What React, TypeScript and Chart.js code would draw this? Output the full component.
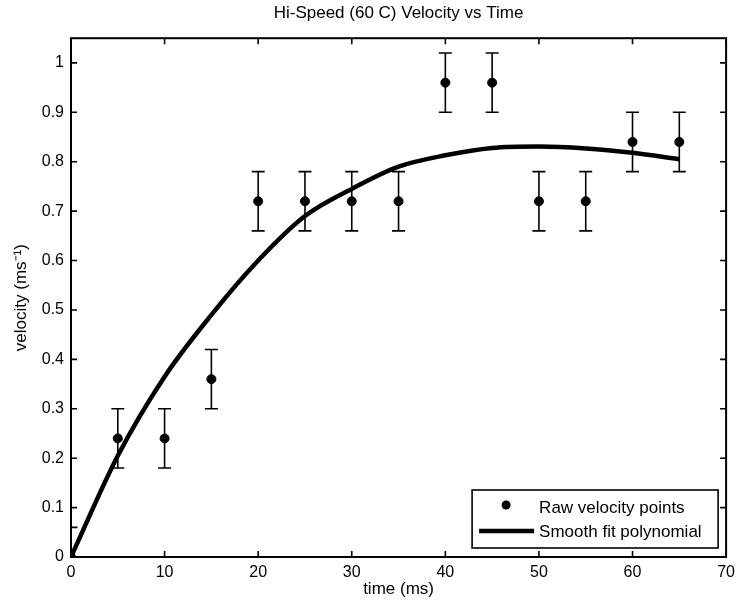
import React, { useEffect, useRef } from "react";
import { Chart, registerables } from "chart.js";

Chart.register(...registerables);

const times = [0, 5, 10, 15, 20, 25, 30, 35, 40, 45, 50, 55, 60, 65];
const velocities = [0, 0.24, 0.24, 0.36, 0.72, 0.72, 0.72, 0.72, 0.96, 0.96, 0.72, 0.72, 0.84, 0.84];
const errors = [0.06, 0.06, 0.06, 0.06, 0.06, 0.06, 0.06, 0.06, 0.06, 0.06, 0.06, 0.06, 0.06, 0.06];
const fitTimes = [0, 5, 10, 15, 20, 25, 30, 35, 40, 45, 50, 55, 60, 65];
const fitValues = [0, 0.205, 0.365, 0.49, 0.6, 0.69, 0.745, 0.79, 0.813, 0.828, 0.831, 0.827, 0.818, 0.805];
const xTicks = [0, 10, 20, 30, 40, 50, 60, 70];
const yTicks = [0, 0.1, 0.2, 0.3, 0.4, 0.5, 0.6, 0.7, 0.8, 0.9, 1];
const titleText = "Hi-Speed (60 C) Velocity vs Time";
const legendLabels = ["Raw velocity points", "Smooth fit polynomial"];

const FONT = "'Liberation Sans', Arial, Helvetica, sans-serif";

const matlabPlugin = {
  id: "matlabPlugin",
  beforeDatasetsDraw(chart: any) {
    const { ctx, chartArea, scales } = chart;
    const xs = scales.x;
    const ys = scales.y;
    ctx.save();
    ctx.beginPath();
    ctx.rect(chartArea.left - 1, chartArea.top, chartArea.right - chartArea.left + 2, chartArea.bottom - chartArea.top);
    ctx.clip();
    ctx.strokeStyle = "#000";
    ctx.lineWidth = 1.6;
    const cap = 6.5;
    times.forEach((t, i) => {
      const px = xs.getPixelForValue(t);
      const top = ys.getPixelForValue(velocities[i] + errors[i]);
      const bot = ys.getPixelForValue(velocities[i] - errors[i]);
      ctx.beginPath();
      ctx.moveTo(px, top);
      ctx.lineTo(px, bot);
      ctx.moveTo(px - cap, top);
      ctx.lineTo(px + cap, top);
      ctx.moveTo(px - cap, bot);
      ctx.lineTo(px + cap, bot);
      ctx.stroke();
    });
    ctx.restore();
  },
  afterDraw(chart: any) {
    const { ctx, chartArea, scales } = chart;
    const xs = scales.x;
    const ys = scales.y;
    const { left, right, top, bottom } = chartArea;
    ctx.save();
    ctx.strokeStyle = "#000";
    ctx.lineWidth = 1.6;
    const tl = 6;
    ctx.beginPath();
    xTicks.forEach((v) => {
      const px = xs.getPixelForValue(v);
      ctx.moveTo(px, bottom);
      ctx.lineTo(px, bottom - tl);
      ctx.moveTo(px, top);
      ctx.lineTo(px, top + tl);
    });
    yTicks.forEach((v) => {
      const py = ys.getPixelForValue(v);
      ctx.moveTo(left, py);
      ctx.lineTo(left + tl, py);
      ctx.moveTo(right, py);
      ctx.lineTo(right - tl, py);
    });
    ctx.stroke();
    ctx.lineWidth = 2;
    ctx.strokeRect(left, top, right - left, bottom - top);

    // title centred over the axes
    ctx.fillStyle = "#000";
    ctx.font = `17px ${FONT}`;
    ctx.textAlign = "center";
    ctx.textBaseline = "middle";
    ctx.fillText(titleText, (left + right) / 2, 13);

    // legend
    const w = 246;
    const h = 58;
    const bx = right - 8 - w;
    const by = bottom - 9 - h;
    ctx.fillStyle = "#fff";
    ctx.fillRect(bx, by, w, h);
    ctx.lineWidth = 1.6;
    ctx.strokeRect(bx, by, w, h);
    ctx.fillStyle = "#000";
    ctx.beginPath();
    ctx.arc(bx + 34, by + 15, 4.5, 0, Math.PI * 2);
    ctx.fill();
    ctx.lineWidth = 4.5;
    ctx.beginPath();
    ctx.moveTo(bx + 7, by + 41);
    ctx.lineTo(bx + 62, by + 41);
    ctx.stroke();
    ctx.font = `17px ${FONT}`;
    ctx.textAlign = "left";
    ctx.textBaseline = "middle";
    ctx.fillText(legendLabels[0], bx + 67, by + 18);
    ctx.fillText(legendLabels[1], bx + 67, by + 42);
    ctx.restore();
  },
};

export default function App() {
  const ref = useRef<HTMLCanvasElement | null>(null);
  useEffect(() => {
    document.body.style.margin = "0";
    const canvas = ref.current;
    if (!canvas) return;
    const chart = new Chart(canvas, {
      type: "scatter",
      data: {
        datasets: [
          {
            label: legendLabels[0],
            data: times.map((t, i) => ({ x: t, y: velocities[i] })),
            backgroundColor: "#000",
            borderColor: "#000",
            pointRadius: 4.5,
            pointHoverRadius: 4.5,
            showLine: false,
          },
          {
            label: legendLabels[1],
            data: fitTimes.map((t, i) => ({ x: t, y: fitValues[i] })),
            showLine: true,
            borderColor: "#000",
            backgroundColor: "#000",
            borderWidth: 4.5,
            pointRadius: 0,
            cubicInterpolationMode: "monotone",
          } as any,
        ],
      },
      options: {
        animation: false,
        responsive: false,
        devicePixelRatio: 1,
        layout: { padding: { left: 0, right: 14, top: 0, bottom: 0 } },
        plugins: {
          legend: { display: false },
          tooltip: { enabled: false },
          title: {
            display: true,
            text: titleText,
            color: "rgba(0,0,0,0)",
            font: { family: FONT, size: 16, weight: "normal" },
            padding: { top: 3, bottom: 16 },
          },
        },
        scales: {
          x: {
            type: "linear",
            min: 0,
            max: 70,
            afterFit: (s: any) => {
              s.height = 52;
            },
            afterBuildTicks: (s: any) => {
              s.ticks = xTicks.map((v) => ({ value: v }));
            },
            grid: { display: false, drawTicks: false },
            border: { display: false },
            ticks: {
              color: "#000",
              font: { family: FONT, size: 16 },
              padding: 6,
              maxRotation: 0,
              autoSkip: false,
            },
            title: {
              display: true,
              text: "time (ms)",
              color: "#000",
              font: { family: FONT, size: 17 },
              padding: 9,
            },
          },
          y: {
            type: "linear",
            min: 0,
            max: 1.05,
            afterFit: (s: any) => {
              s.width = 71;
            },
            afterBuildTicks: (s: any) => {
              s.ticks = yTicks.map((v) => ({ value: v }));
            },
            grid: { display: false, drawTicks: false },
            border: { display: false },
            ticks: {
              color: "#000",
              font: { family: FONT, size: 16 },
              padding: 7,
              autoSkip: false,
              callback: (v: any) => String(Math.round(Number(v) * 10) / 10),
            },
            title: {
              display: true,
              text: "velocity (ms⁻¹)",
              color: "#000",
              font: { family: FONT, size: 17 },
              padding: 11,
            },
          },
        },
      },
      plugins: [matlabPlugin],
    });
    return () => chart.destroy();
  }, []);
  return (
    <div style={{ width: 741, height: 609 }}>
      <canvas ref={ref} width={741} height={609} style={{ display: "block" }} />
    </div>
  );
}
